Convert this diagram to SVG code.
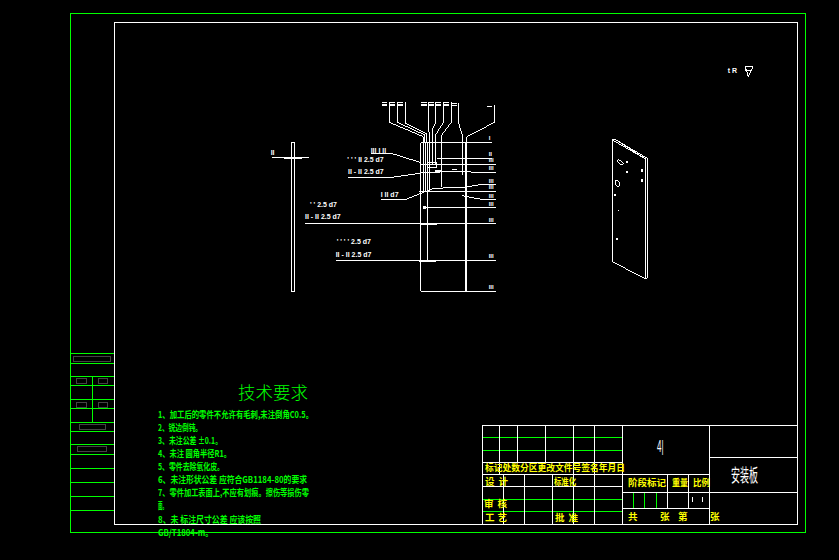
<svg xmlns="http://www.w3.org/2000/svg" width="839" height="560" viewBox="0 0 839 560" shape-rendering="crispEdges">
<style>
.g{stroke:#00ff00;stroke-width:1;fill:none}
.w{stroke:#fff;stroke-width:1;fill:none}
.d{stroke:#444;stroke-width:1;fill:none}
.z{stroke:#fff;stroke-width:3;fill:none}
.zt{stroke:#fff;stroke-width:5;fill:none}
.zl{fill:#fff;font-family:"Liberation Sans",sans-serif;font-size:21px;font-weight:bold}
.zr{fill:#fff;font-family:"Liberation Sans",sans-serif;font-size:18px;font-weight:bold}
.l{fill:#00ff00;font-family:"Noto Sans CJK SC",sans-serif;font-size:9.500px;font-weight:bold}
.y{fill:#ffff00;font-family:"Noto Sans CJK SC",sans-serif;font-size:9.500px;font-weight:bold}
.t{fill:#fff;font-family:"Noto Sans CJK SC",sans-serif;font-size:9px}
</style>
<rect width="839" height="560" fill="#000"/>
<g id="frame">
<rect class="g" x="70.500" y="13.500" width="735" height="519"/>
<rect class="w" x="114.500" y="22.500" width="683" height="502"/>
</g>
<g id="side-strip">
<path class="g" d="M71 353.500H114M71 363.500H114M71 376.500H114M71 385.500H114M71 399.500H114M71 408.500H114M71 422.500H114M71 431.500H114M71 444.500H114M71 454.500H114M71 468.500H114M71 482.500H114M71 496.500H114M71 510.500H114M92.500 376V422"/>
<path class="d" d="M73.500 356.500H110.500V361.500H73.500ZM76.500 378.500H86.500V383.500H76.500ZM98.500 378.500H107.500V383.500H98.500ZM76.500 402.500H86.500V407.500H76.500ZM98.500 402.500H107.500V407.500H98.500ZM79.500 424.500H105.500V429.500H79.500ZM77.500 446.500H106.500V451.500H77.500Z"/>
</g>
<g id="section-view" transform="translate(260 90) scale(.33333)">
<rect class="z" x="94.500" y="157.500" width="9" height="447"/>
<path class="z" d="M36 202H146"/>
<path class="zt" d="M72 204H126"/>
<path class="zt" d="M482 158V604M618 158V604M482 158H618"/>
<path class="z" d="M482 604H708M618 157H696M388 36V97L490 140V158M412 36V97L495 135V158M436 36V100L500 132V158M505 36V117L510 142V240M527 36V97L518 117V225M550 36V97L527 135V225M574 36V97L545 135V290M596 40V100L607 135V255M704 45V97L620 140V158"/>
<path class="z" d="M490 158V304M497 158V304M503 158V511M510 240V304M532 205H695M482 223H708M500 217H530V232H500M633 247H708M480 248L633 243M636 288L665 283H708M478 304H708M607 317L635 323L665 328H708M490 352H708M135 400H708M228 511H708M333 192H400L480 217M264 262H395L480 250M363 330H432L478 312L520 295L610 292L636 288"/>
<path class="zt" d="M482 402H531M478 513H527M525 243H545M576 239H590"/>
<path class="z" d="M681 49H696"/>
<path fill="#fff" d="M489 348H498V357H489Z"/>
<g class="zl">
<text x="32" y="196">II</text>
<text x="332" y="188">III I II</text>
<text x="262" y="217">' ' ' II 2.5 d7</text>
<text x="264" y="252">II - II 2.5 d7</text>
<text x="362" y="322">I II d7</text>
<text x="150" y="351">' ' 2.5 d7</text>
<text x="135" y="388">II - II 2.5 d7</text>
<text x="230" y="462">' ' ' ' 2.5 d7</text>
<text x="227" y="500">II - II 2.5 d7</text>
</g>
<g class="zr">
<text x="686" y="151">I</text>
<text x="686" y="197">II</text>
<text x="686" y="216">III</text>
<text x="686" y="240">III</text>
<text x="686" y="278">III</text>
<text x="686" y="297">III</text>
<text x="686" y="323">III</text>
<text x="686" y="347">III</text>
<text x="686" y="395">III</text>
<text x="686" y="504">III</text>
<text x="686" y="597">III</text>
</g>
<path class="z" d="M365 38H382M365 43H382M365 48H382M389 38H406M389 43H406M389 48H406M412 38H429M412 43H429M412 48H429M484 38H500M484 43H500M484 48H500M505 38H521M505 43H521M505 48H521M528 38H544M528 43H544M528 48H544M550 38H566M550 43H566M550 48H566M574 42H590M574 48H590"/>
</g>
<g id="plate-view" transform="translate(600 130) scale(.33333)">
<path class="z" d="M37 30L137 87V447L37 395ZM37 30L45 28L142 85V445L137 447M45 28L137 87"/>
<ellipse class="z" cx="61" cy="97" rx="11" ry="5" transform="rotate(35 61 97)"/>
<ellipse class="z" cx="52" cy="160" rx="6" ry="10" transform="rotate(-25 52 160)"/>
<path fill="#fff" d="M78 93h6v6h-6zM78 123h6v6h-6zM123 118h5v7h-5zM123 148h5v7h-5zM43 192h5v5h-5zM53 239h4v4h-4zM49 324h5v5h-5z"/>
</g>
<g id="roughness" transform="translate(720 55) scale(.33333)">
<text class="zl" x="23" y="55">t R</text>
<path class="z" d="M76 35H100L85 65L76 35V48H96"/>
</g>
<g id="title-block">
<path class="g" d="M482 437.500H622M482 450.500H622M482 499.500H622M482 511.500H622M633.500 492V508M644.500 492V508M656.500 492V508"/>
<path class="w" d="M482 425.500H797M482.500 425V524M622.500 425V524M709.500 425V524M482 462.500H622M482 474.500H709M482 486.500H622M622 492.500H797M622 508.500H709M709 457.500H797M499.500 425V474M517.500 425V462M545.500 425V462M573.500 425V524M594.500 425V524M503.500 474V524M524.500 474V524M552.500 474V524M667.500 474V508M688.500 474V508"/>
<path class="w" d="M692.500 497V502M702.500 497V502"/>
<g class="y">
<text x="485" y="471" textLength="140" lengthAdjust="spacingAndGlyphs">标记处数分区更改文件号签名年月日</text>
<text x="485" y="485" textLength="23">设计</text>
<text x="554" y="485" textLength="22" lengthAdjust="spacingAndGlyphs">标准化</text>
<text x="484" y="507" textLength="23">审核</text>
<text x="485" y="521" textLength="22">工艺</text>
<text x="555" y="521" textLength="23">批准</text>
<text x="628" y="486" textLength="38">阶段标记</text>
<text x="672" y="486" textLength="16" lengthAdjust="spacingAndGlyphs">重量</text>
<text x="693" y="486" textLength="17" lengthAdjust="spacingAndGlyphs">比例</text>
<text x="628" y="520">共</text>
<text x="660" y="520">张</text>
<text x="678" y="520">第</text>
<text x="710" y="520">张</text>
</g>
<text class="t" transform="translate(731 482) scale(1 2)" textLength="27">安装板</text>
<text class="t" transform="translate(657 452) scale(1 2)" style="font-family:'Liberation Sans',sans-serif;font-size:8px">4|</text>
</g>
<g id="notes">
<text x="238" y="399" font-family="'Noto Sans CJK SC',sans-serif" font-size="17.500px" fill="#00ff00" font-weight="300">技术要求</text>
<text class="l" x="158" y="418" textLength="155" lengthAdjust="spacingAndGlyphs">1、加工后的零件不允许有毛刺,未注倒角C0.5。</text>
<text class="l" x="158" y="431" textLength="44" lengthAdjust="spacingAndGlyphs">2、锐边倒钝。</text>
<text class="l" x="158" y="444" textLength="64" lengthAdjust="spacingAndGlyphs">3、未注公差 ±0.1。</text>
<text class="l" x="158" y="457" textLength="73" lengthAdjust="spacingAndGlyphs">4、未注 圆角半径R1。</text>
<text class="l" x="158" y="470" textLength="66" lengthAdjust="spacingAndGlyphs">5、零件去除氧化皮。</text>
<text class="l" x="158" y="483" textLength="149" lengthAdjust="spacingAndGlyphs">6、未注形状公差 应符合GB1184-80的要求</text>
<text class="l" x="158" y="496" textLength="151" lengthAdjust="spacingAndGlyphs">7、零件加工表面上,不应有划痕。擦伤等损伤零</text>
<text class="l" x="158" y="509" textLength="9" lengthAdjust="spacingAndGlyphs">面。</text>
<text class="l" x="158" y="523" textLength="103" lengthAdjust="spacingAndGlyphs">8、未 标注尺寸公差 应该按照</text>
<text class="l" x="158" y="536" textLength="55" lengthAdjust="spacingAndGlyphs">GB/T1804-m。</text>
</g>
</svg>
